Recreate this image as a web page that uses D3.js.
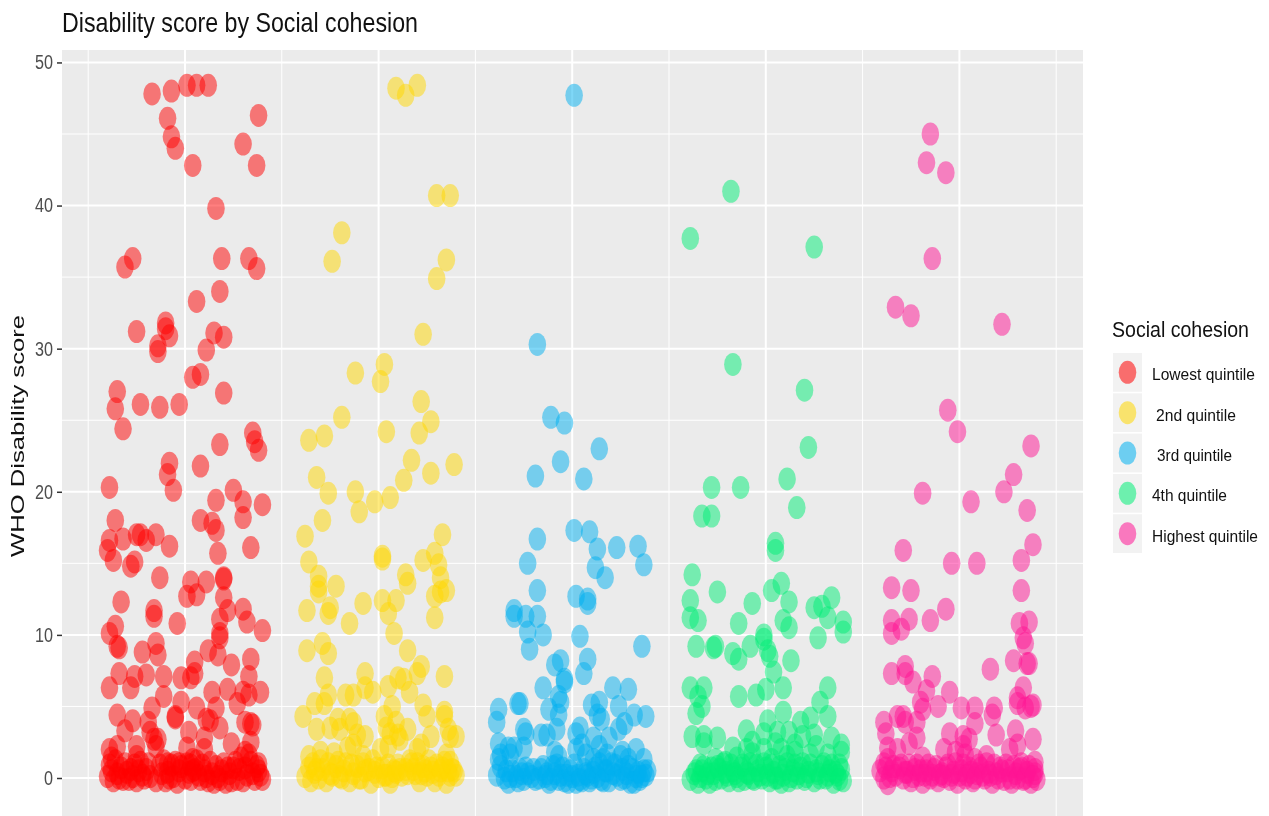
<!DOCTYPE html>
<html><head><meta charset="utf-8">
<script src="https://cdn.jsdelivr.net/npm/d3@7"></script>
<style>html,body{margin:0;padding:0;background:#fff;overflow:hidden}svg{display:block;filter:blur(0.45px)}text{font-family:"Liberation Sans",Arial,sans-serif}</style>
</head><body><svg id="c" width="1269" height="816"></svg>
<script>
const title="Disability score by Social cohesion";
const yLabel="WHO Disability score";
const legendTitle="Social cohesion";
const quintiles=["Lowest quintile"," 2nd quintile"," 3rd quintile","4th quintile","Highest quintile"];
const colors=["#FF0000","#FFD700","#00B0F0","#00EE76","#FF1493"];
const yTicks=[0,10,20,30,40,50];
const yMinor=[5,15,25,35,45];
// each point: [horizontal jitter as % of a category step, disability score]
const lowest=[[-17,47.8],[-7,48],[1,48.4],[6,48.4],[12,48.4],[-9,46.1],[-7,44.8],[-5,44],[4,42.8],[30,44.3],[37,42.8],[38,46.3],[16,39.8],[-27,36.3],[-31,35.7],[19,36.3],[33,36.3],[37,35.6],[18,34],[6,33.3],[-25,31.2],[-10,31.8],[-10,31.4],[-8,30.9],[-14,30.2],[-14,29.8],[15,31.1],[20,30.8],[11,29.9],[4,28],[8,28.2],[20,26.9],[-35,27],[-36,25.8],[-23,26.1],[-13,25.9],[-3,26.1],[-32,24.4],[35,24.1],[18,23.3],[36,23.5],[38,22.9],[-8,22],[-9,21.2],[8,21.8],[-39,20.3],[-6,20.1],[16,19.4],[25,20.1],[30,19.3],[40,19.1],[30,18.2],[-36,18],[8,18],[14,17.8],[16,17.3],[-39,16.6],[-32,16.7],[-25,17],[-23,17],[-20,16.6],[-15,17],[-8,16.2],[34,16.1],[17,15.7],[-40,15.9],[-37,15.2],[-28,14.8],[-26,15.1],[-13,14],[20,14],[20,13.9],[3,13.7],[11,13.7],[6,12.8],[1,12.7],[20,12.6],[-33,12.3],[-16,11.7],[-16,11.3],[22,11.7],[30,11.8],[18,11.1],[32,10.9],[-4,10.8],[40,10.3],[18,10.1],[18,9.8],[-39,10.1],[-36,10.6],[-15,9.4],[-35,9.2],[-34,9.1],[-22,8.8],[-14,8.6],[12,8.9],[17,8.6],[34,8.3],[5,8.1],[24,7.9],[-34,7.3],[-26,7.1],[-20,7.2],[-11,7.1],[-2,7],[3,7],[5,7.3],[-39,6.3],[-28,6.3],[-11,5.7],[14,6],[22,6.2],[33,7.1],[30,6],[33,5.8],[39,6],[27,5.2],[-17,4.9],[-35,4.4],[-27,4],[-31,3.3],[-19,3.9],[-18,3.2],[-5,4.2],[-5,4.3],[-2,5.3],[6,4.9],[16,4.9],[13,4],[11,4.1],[18,3.5],[31,3.9],[34,3.8],[35,3.7],[2,3.2],[10,2.8],[-16,2.7],[-14,2.7],[-15,2.2],[24,2.4],[1,2.1],[-39,2],[-35,2.2],[-25,2.2],[-38,1.4],[-25,1.5],[10,2],[34,2.5],[31,1.8],[33,1.6],[38,1],[-9,1],[-5,1.1],[4,1.3],
[-40,0.1],[-38,0.5],[-37,-0.2],[-35,0.3],[-33,0.7],[-32,-0.1],[-30,0.4],[-28,0.6],[-27,0.1],[-25,-0.2],[-24,0.5],[-22,0.2],[-20,0.6],[-18,0.1],[-12,0.3],[-10,-0.2],[-9,0.4],[-6,0.1],[-4,-0.3],[-3,0.5],[2,0.4],[3,-0.1],[5,0.6],[7,0.2],[8,-0.1],[10,0.5],[12,-0.2],[14,0.3],[15,-0.3],[17,0.1],[19,0.5],[21,-0.3],[23,0.3],[25,0.7],[27,-0.1],[30,-0.2],[32,0.2],[35,0.3],[36,-0.1],[38,0.5],[40,-0.1],[39,0.2],
[-39,0.9],[-36,1.2],[-34,0],[-31,1],[-29,-0.1],[-26,0.9],[-23,1.1],[-21,0],[-19,1],[-11,1.2],[-8,0],[-7,0.9],[-2,0.8],[0,0],[1,1],[4,0.5],[6,1.2],[9,0.9],[11,0.1],[13,1.1],[16,0.8],[18,-0.1],[20,1],[22,0.7],[24,-0.2],[26,1.1],[28,0.6],[29,1.4],[31,0.7],[34,1.1],[37,0.8],[3,0.9],[-3,1],[-13,0.9],[-15,-0.2]];
const second=[[9,48.2],[20,48.4],[14,47.7],[30,40.7],[37,40.7],[-19,38.1],[-24,36.1],[35,36.2],[30,34.9],[23,31],[-12,28.3],[3,28.9],[1,27.7],[22,26.3],[-19,25.2],[27,24.9],[-36,23.6],[-28,23.9],[4,24.2],[21,24.1],[17,22.2],[-32,21],[39,21.9],[27,21.3],[13,20.8],[-26,19.9],[-12,20],[-2,19.3],[6,19.6],[-10,18.6],[-29,18],[33,17],[-38,16.9],[-36,15.1],[2,15.5],[2,15.3],[23,15.2],[29,15.7],[31,14.9],[14,14.2],[-31,14.1],[32,14],[15,13.6],[-31,13.4],[-22,13.4],[32,13],[35,13.1],[-31,13],[-8,12.2],[2,12.4],[9,12.4],[29,12.7],[-37,11.7],[-25,11.9],[-26,11.5],[5,11.5],[29,11.2],[-15,10.8],[8,10.1],
[-37,8.9],[-29,9.4],[-26,8.7],[15,8.9],[22,7.8],[20,7.3],[34,7.1],[-28,7],[-7,7.3],[10,7],[13,6.9],[5,6.4],[16,6],[-26,5.8],[-33,5.2],[-28,5.2],[-17,5.8],[-13,5.8],[-7,6.3],[-3,6],[7,5],[-39,4.3],[23,5.1],[25,4.3],[34,4.6],[34,4.3],[-32,3.4],[-25,3.5],[-13,3.8],[-15,4.1],[3,4.3],[6,3.1],[15,3.4],[10,3],[-7,2.9],[27,2.9],[36,3.4],[40,2.9],[37,2.9],[35,1.6],[20,2],[1,2],[5,2.2],[-36,1.5],[-30,1.8],[-23,1.7],[-16,2.1],[-8,1.5],[-21,4.1],[-20,3.4],[-11,3],[9,3.9],[4,3.5],[22,2.3],[-13,2.3],[11,2.7],
[-38,0.1],[-36,0.7],[-35,-0.2],[-33,0.4],[-31,0],[-29,0.6],[-27,-0.2],[-25,0.3],[-22,0.8],[-20,0.1],[-18,0.5],[-15,-0.2],[-13,0.3],[-11,0.8],[-9,0],[-7,0.5],[-4,-0.3],[-2,0.4],[0,0.1],[2,0.7],[4,0.2],[6,-0.3],[8,0.5],[10,0.9],[12,0.2],[14,0.6],[17,1],[19,0.3],[21,-0.2],[23,0.8],[25,0.2],[27,0.7],[29,-0.2],[31,0.2],[33,0.7],[35,-0.3],[37,0.2],[39,0.5],[40,0.2],[38,0.6],
[-34,1],[-32,0.6],[-30,1.2],[-26,1],[-24,0.2],[-21,1.1],[-19,0],[-17,1],[-14,0.9],[-10,0],[-8,1],[-5,0.6],[-3,1.2],[-1,0.7],[3,0.2],[5,0.9],[7,0.1],[9,0.4],[11,0.6],[15,0.3],[16,1.2],[18,0.6],[20,1],[22,0.3],[24,0.5],[26,1.2],[28,0.4],[30,0.9],[32,0.5],[34,1.1],[36,0.5],[37,1.1]];
const third=[[1,47.7],[-18,30.3],[-11,25.2],[-4,24.8],[-6,22.1],[14,23],[-19,21.1],[6,20.9],[-18,16.7],[-23,15],[1,17.3],[9,17.2],[13,16],[23,16.1],[34,16.2],[12,14.7],[17,14],[37,14.9],[-18,13.1],[2,12.7],[8,12.5],[8,12.2],[-30,11.7],[-30,11.3],[-24,11.3],[-18,11.3],[-23,10.2],[-15,10],[-22,9],[4,9.9],[36,9.2],
[-6,8.2],[-9,7.9],[-4,6.9],[-4,6.7],[8,8.3],[6,7.3],[-15,6.3],[-7,5.7],[-6,5.3],[-12,4.8],[-7,4.4],[-8,3.4],[21,6.3],[29,6.2],[24,5],[14,5.3],[10,5.1],[13,4.4],[15,4.1],[32,4.4],[38,4.3],[27,3.8],[24,3.4],[-28,5.2],[-27,5.2],[-38,4.8],[-39,3.9],[-25,3.4],[-24,3.1],[-16,3],[-13,3],[4,3.5],[2,3.1],[-38,2.4],[-33,2.1],[-30,2.1],[-25,2.1],[-9,1.8],[2,2],[11,2.8],[19,2.8],[14,2.2],[26,1.8],[33,2],[-38,1.3],[-37,1.6],[-7,1.5],[11,1.3],[25,1.5],[37,1.3],[16,1.3],[22,0.9],[5,2.3],[7,1.6],[18,1.6],[29,1.3],[-32,1.6],
[-39,0.2],[-37,0.8],[-35,0],[-33,-0.3],[-31,0.5],[-29,0.1],[-27,0.6],[-25,-0.1],[-23,0.3],[-19,-0.1],[-16,0.6],[-14,0.1],[-12,-0.3],[-10,0.8],[-9,0.3],[-7,-0.1],[-5,0.7],[-3,0.2],[-2,-0.3],[2,-0.3],[3,0.2],[5,-0.2],[6,0.6],[8,0.2],[10,0],[12,0.7],[15,-0.1],[17,0.5],[19,-0.2],[21,0.3],[25,-0.1],[28,0.3],[30,-0.3],[31,0.6],[33,0.1],[35,-0.1],[37,0.5],[38,0.2],[39,0.5],
[-34,0.5],[-32,0.1],[-28,-0.2],[-26,0.3],[-24,0.7],[-21,0.1],[-20,0.6],[-17,0],[-15,0.8],[-13,0.3],[-11,-0.1],[-8,0.9],[-6,0.2],[-4,-0.2],[-1,0.5],[0,0.1],[1,0.9],[4,-0.1],[7,0.3],[9,-0.2],[11,0.4],[13,0.1],[14,1],[16,-0.2],[18,0.5],[20,1],[23,0.2],[26,0.6],[27,0],[29,0.8],[32,-0.3],[34,0.4],[36,0.1]];
const fourth=[[-18,41],[-39,37.7],[25,37.1],[-17,28.9],[20,27.1],[22,23.1],[-28,20.3],[-13,20.3],[11,20.9],[16,18.9],[-33,18.3],[-28,18.3],[5,16.4],[5,15.9],[-38,14.2],[-39,12.4],[-25,13],[3,13.1],[8,13.6],[34,12.6],[12,12.3],[-7,12.2],[25,11.9],[29,12],[32,11.2],[-39,11.2],[-35,11],[-14,10.8],[9,11],[12,10.5],[40,10.9],[40,10.2],[-1,10],[-1,9.7],[27,9.8],
[-36,9.2],[-27,9.1],[-26,9.2],[-8,9.2],[-17,8.7],[-14,8.3],[1,8.9],[2,8.5],[13,8.2],[4,7.4],[-39,6.3],[-32,6.3],[-35,5.7],[-33,5],[-36,4.5],[-14,5.7],[-5,5.8],[0,6.2],[9,6.3],[9,4.6],[32,6.3],[28,5.3],[32,4.3],[23,4.2],[18,3.9],[1,4],[-10,3.3],[-38,2.9],[-32,2.9],[-32,2.4],[-25,2.8],[-17,2.1],[-7,2.5],[-7,1.7],[-1,3.1],[6,3.2],[12,3.2],[5,2.4],[19,2.9],[25,3],[34,2.8],[39,2.3],[26,2.2],[15,1.8],[-26,1.3],[32,1.6],[23,1.6],[39,1.8],[11,1.5],[-1,2],[-10,2],[8,2],[-15,1.4],[-34,0.9],[-21,1.1],[3,1.3],[15,2.3],
[-39,-0.1],[-37,0.3],[-35,-0.3],[-33,0.5],[-31,0],[-29,-0.3],[-27,0.3],[-25,0.8],[-23,0],[-21,0.4],[-19,-0.2],[-17,0.5],[-15,0.1],[-13,0.7],[-11,-0.1],[-9,0.3],[-6,-0.1],[-4,0.5],[-2,0],[0,0.7],[2,-0.2],[4,0.4],[6,0],[8,-0.3],[10,0.6],[12,-0.2],[14,0.5],[16,0],[18,0.7],[20,-0.1],[22,0.4],[25,-0.2],[27,0.3],[29,0.8],[31,0],[33,0.5],[35,-0.3],[37,0.2],[39,0.6],[40,-0.2],
[-36,0.5],[-34,0.1],[-32,0.8],[-30,0.3],[-28,0.7],[-26,-0.1],[-24,0.6],[-22,1],[-20,0.2],[-18,0.9],[-16,0.3],[-14,-0.2],[-12,0.9],[-10,0.4],[-8,1],[-7,0],[-5,0.9],[-3,0.2],[-1,1],[1,0.2],[3,0.9],[5,0],[7,0.8],[9,0.2],[11,1],[13,0.1],[15,0.9],[17,0.3],[19,1],[21,0.1],[23,0.9],[26,0.5],[28,0],[30,1],[32,0.2],[34,0.9],[36,0.4],[38,0.9],[38,-0.1]];
const highest=[[-15,45],[-17,43],[-7,42.3],[-14,36.3],[-33,32.9],[-25,32.3],[22,31.7],[-6,25.7],[-1,24.2],[37,23.2],[28,21.2],[23,20],[-19,19.9],[6,19.3],[35,18.7],[38,16.3],[-29,15.9],[32,15.2],[-4,15],[9,15],[32,13.1],[-35,13.3],[-25,13.1],[-7,11.8],[-15,11],[-26,11.1],[-35,11],[31,10.8],[36,10.9],[-35,10.1],[-30,10.4],[33,9.8],[34,9.4],
[28,8.2],[35,8],[36,8],[16,7.6],[-35,7.3],[-28,7.8],[-28,7.3],[-24,6.7],[-14,7.1],[-17,6.1],[-5,6],[-20,5.3],[-19,4.8],[-11,5],[1,4.9],[8,4.9],[8,3.8],[18,4.9],[17,4.4],[19,3],[33,6.3],[30,5.6],[30,5.2],[34,4.9],[38,5.1],[37,5],[-39,3.9],[-38,3.1],[-32,4.3],[-29,4.3],[-28,3.9],[-22,3.9],[-22,2.8],[-26,2.4],[-32,2],[-37,2.1],[-5,3.1],[2,2.9],[5,2.7],[-8,2],[29,3.3],[38,2.7],[30,2.3],[26,2],[14,1.5],[2,2.2],[-2,1.8],[-39,1],[-19,1.4],[39,1.1],[32,1],[-37,1.3],[3,1.6],[8,1.3],
[-41,0.5],[-39,0],[-37,-0.4],[-35,0.5],[-33,0.2],[-31,0.7],[-29,0],[-27,0.4],[-25,-0.2],[-23,0.6],[-21,0.2],[-19,-0.3],[-17,0.5],[-15,0],[-13,0.6],[-11,-0.2],[-9,0.3],[-7,0.7],[-5,-0.1],[-3,0.4],[-1,-0.3],[1,0.5],[3,0],[5,0.7],[7,-0.2],[9,0.3],[11,0.7],[13,0],[15,0.4],[17,-0.3],[19,0.3],[21,0.7],[23,-0.1],[25,0.5],[27,-0.3],[29,0.3],[31,0.6],[33,-0.1],[35,0.4],[37,-0.3],[39,0.3],[40,-0.1],[39,0.6],
[-38,0.7],[-36,0.1],[-34,0.8],[-30,0.9],[-28,0.4],[-26,0.9],[-24,0.1],[-22,0.9],[-20,0.5],[-18,0.2],[-16,0.9],[-14,0.2],[-12,0.8],[-10,0.2],[-8,0.1],[-6,0.9],[-4,0.2],[-2,1],[0,0.2],[2,0.9],[4,0.2],[6,0.4],[8,0],[10,0.9],[12,0.2],[14,1],[16,0.2],[18,0.9],[20,0],[22,0.5],[24,0.9],[26,0],[28,0.8],[30,0],[32,0.7],[34,0],[36,0.8],[38,0.1]];
const groups=[lowest,second,third,fourth,highest];

const svg=d3.select("#c");
const x=d3.scaleLinear().domain([0.3647,5.6384]).range([62,1083]);
const y=d3.scaleLinear().domain([-2.655,50.87]).range([816,50]);
const dotRx=8.8,dotRy=11.5;

svg.append("rect").attr("x",x.range()[0]).attr("y",y.range()[1]).attr("width",x.range()[1]-x.range()[0]).attr("height",y.range()[0]-y.range()[1]).attr("fill","#EBEBEB");
const grid=svg.append("g").attr("stroke","#fff").attr("fill","none");
grid.selectAll(".hmin").data(yMinor).join("line").attr("x1",62).attr("x2",1083).attr("y1",d=>y(d)).attr("y2",d=>y(d)).attr("stroke-width",1);
grid.selectAll(".vmin").data(d3.range(0.5,6,1)).join("line").attr("y1",50).attr("y2",816).attr("x1",d=>x(d)).attr("x2",d=>x(d)).attr("stroke-width",1);
grid.selectAll(".hmaj").data(yTicks).join("line").attr("x1",62).attr("x2",1083).attr("y1",d=>y(d)).attr("y2",d=>y(d)).attr("stroke-width",2);
grid.selectAll(".vmaj").data(d3.range(1,6)).join("line").attr("y1",50).attr("y2",816).attr("x1",d=>x(d)).attr("x2",d=>x(d)).attr("stroke-width",2);

groups.forEach((g,i)=>{
  svg.append("g").selectAll("ellipse").data(g).join("ellipse")
    .attr("cx",d=>x(i+1+d[0]/100)).attr("cy",d=>y(d[1]))
    .attr("rx",dotRx).attr("ry",dotRy).attr("fill",colors[i]).attr("fill-opacity",0.5);
});

const ax=svg.append("g").attr("transform","translate(62,0)").call(d3.axisLeft(y).tickValues(yTicks).tickSize(5).tickPadding(4));
ax.select(".domain").remove();
ax.selectAll("line").attr("stroke","#333").attr("stroke-width",1.5);
ax.selectAll("text").attr("fill","#4D4D4D").attr("font-size",20).attr("textLength",d=>d===0?9:18).attr("lengthAdjust","spacingAndGlyphs");

svg.append("text").attr("x",62).attr("y",32).attr("font-size",28).attr("fill","#111").attr("textLength",356).attr("lengthAdjust","spacingAndGlyphs").text(title);
svg.append("text").attr("transform","translate(24,436) rotate(-90)").attr("text-anchor","middle").attr("font-size",19).attr("fill","#111").attr("textLength",242).attr("lengthAdjust","spacingAndGlyphs").text(yLabel);

const legendBand=d3.scaleBand().domain(quintiles).range([353,553]).paddingInner(0.04);
const legendX=[1152,1156,1157,1152,1152];
const legendW=[103,80,75,75,106];
svg.append("text").attr("x",1112).attr("y",337).attr("font-size",22).attr("fill","#111").attr("textLength",137).attr("lengthAdjust","spacingAndGlyphs").text(legendTitle);
const lg=svg.append("g").selectAll("g").data(quintiles).join("g");
lg.append("rect").attr("x",1113).attr("y",d=>legendBand(d)).attr("width",29).attr("height",legendBand.bandwidth()).attr("fill","#F2F2F2");
lg.append("ellipse").attr("cx",1127.5).attr("cy",d=>legendBand(d)+legendBand.bandwidth()/2).attr("rx",dotRx).attr("ry",dotRy).attr("fill",(d,i)=>colors[i]).attr("fill-opacity",0.55);
lg.append("text").attr("x",(d,i)=>legendX[i]).attr("y",d=>legendBand(d)+legendBand.bandwidth()/2+8).attr("font-size",17).attr("fill","#111")
  .attr("textLength",(d,i)=>legendW[i]).attr("lengthAdjust","spacingAndGlyphs").text(d=>d.trim());
</script></body></html>
